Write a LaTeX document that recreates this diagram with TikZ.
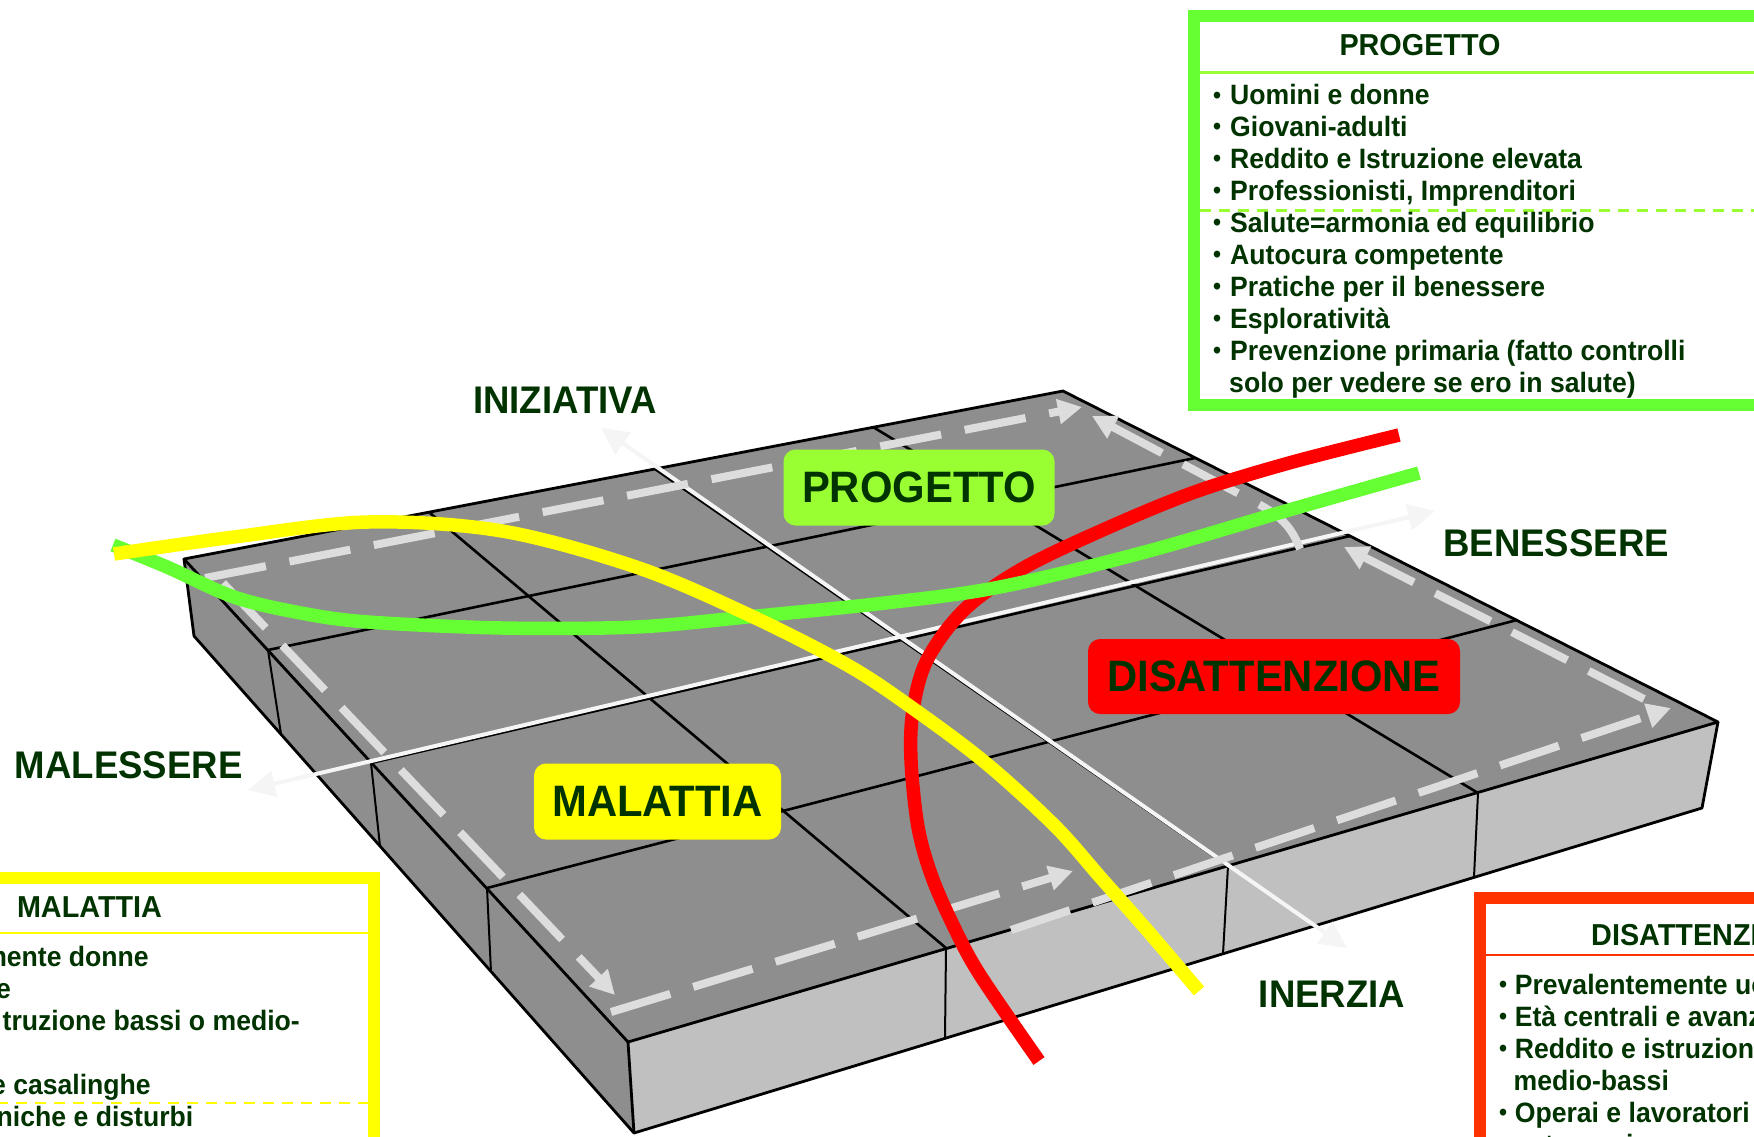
\documentclass[tikz,border=0pt]{standalone}
\usepackage{fontspec}
\newfontfamily\figfont{Liberation Sans}[FakeStretch=0.95]
\usetikzlibrary{arrows.meta}

\definecolor{txtgreen}{HTML}{003300}
\definecolor{limefill}{HTML}{99FF33}
\definecolor{limeline}{HTML}{66FF33}
\definecolor{alarmred}{HTML}{FF0000}
\definecolor{boxred}{HTML}{FF3300}
\definecolor{sickyellow}{HTML}{FFFF00}
\definecolor{tilegray}{HTML}{8E8E8E}
\definecolor{frontgray}{HTML}{C0C0C0}
\definecolor{loopgray}{HTML}{DDDDDD}
\definecolor{axiswhite}{HTML}{F5F5F5}

\begin{document}
\begin{tikzpicture}[x=1pt,y=-1pt,
  slab/.style={draw=black,line width=2.8pt,line join=round},
  seam/.style={draw=black,line width=2.6pt},
  riser/.style={draw=black,line width=2pt},
  axisline/.style={draw=axiswhite,line width=4pt,
    {Triangle[length=27pt,width=26pt]}-{Triangle[length=27pt,width=26pt]}},
  flowdash/.style={draw=loopgray,line width=8pt,dash pattern=on 62pt off 24pt,
    -{Triangle[length=24pt,width=24pt]}},
  trend/.style={line width=13.5pt,line cap=butt,line join=round},
  boardtag/.style={rounded corners=12pt,inner sep=0pt,text=txtgreen,
    font=\figfont\bfseries\fontsize{44}{44}\selectfont},
  axislabel/.style={inner sep=0pt,text=txtgreen,
    font=\figfont\bfseries\fontsize{38.5}{38.5}\selectfont},
  boxhead/.style={inner sep=0pt,text=txtgreen,
    font=\figfont\bfseries\fontsize{30.3}{30.3}\selectfont},
  boxtext/.style={inner sep=0pt,text=txtgreen,
    font=\figfont\bfseries\fontsize{28}{28}\selectfont},
  bulletmark/.style={inner sep=0pt,text=txtgreen,
    font=\figfont\bfseries\fontsize{24}{24}\selectfont},
]
\useasboundingbox (0,0) rectangle (1754,1136);
\clip (0,0) rectangle (1754,1136);
\fill[white] (0,0) rectangle (1754,1136);

% ---------- the slab: corners of the top face and of the lower edge
\coordinate (L)  at (184,559);
\coordinate (Bk) at (1063,391);
\coordinate (R)  at (1718,722);
\coordinate (F)  at (628,1042);
\coordinate (Ld) at (194,636);
\coordinate (Fd) at (634,1133);
\coordinate (Rd) at (1702,808);
% tile divisions on the four top edges
\coordinate (P1) at (268,650);  \coordinate (P2) at (371,763);  \coordinate (P3) at (487,888);
\coordinate (Q1) at (946,948);  \coordinate (Q2) at (1228,866); \coordinate (Q3) at (1478,793);
\coordinate (B1) at (430,513);  \coordinate (B2) at (655,469);  \coordinate (B3) at (873,427);
\coordinate (C1) at (1195,458); \coordinate (C2) at (1350,536); \coordinate (C3) at (1517,620);
% tile divisions on the lower edges
\coordinate (P1d) at (281,734); \coordinate (P2d) at (380,846); \coordinate (P3d) at (491,972);
\coordinate (Q1d) at (945,1038); \coordinate (Q2d) at (1223,954); \coordinate (Q3d) at (1474,877);

\fill[tilegray]  (L) -- (F) -- (Fd) -- (Ld) -- cycle;
\fill[frontgray] (F) -- (R) -- (Rd) -- (Fd) -- cycle;
\fill[tilegray]  (L) -- (Bk) -- (R) -- (F) -- cycle;

\foreach \a/\b in {P1/C1,P2/C2,P3/C3,B1/Q1,B2/Q2,B3/Q3}
  \draw[seam] (\a) -- (\b);
\foreach \a in {P1,P2,P3,Q1,Q2,Q3}
  \draw[riser] (\a) -- (\a d);

\draw[slab] (L) -- (Bk) -- (R) -- (F) -- cycle;
\draw[slab] (L) -- (Ld) -- (Fd) -- (Rd) -- (R);
\draw[slab] (F) -- (Fd);

% ---------- the two white axes
\coordinate (iniz)  at (601,428);
\coordinate (inerz) at (1347,948);
\coordinate (males) at (248,790);
\coordinate (benes) at (1435,511);
\draw[axisline] (iniz) -- (inerz);
\draw[axisline] (males) -- (benes);

% ---------- dashed circulation around the top face
\coordinate (d1s) at (205,578);   \coordinate (d1e) at (1082,407);
\coordinate (d2s) at (223,583);   \coordinate (d2e) at (615,995);
\coordinate (d3s) at (611,1012);  \coordinate (d3e) at (1073,871);
\coordinate (d4s) at (1011,930);  \coordinate (d4e) at (1671,708);
\coordinate (d5s) at (1644,699);  \coordinate (d5e) at (1344,547);
\coordinate (d6s) at (1300,549);  \coordinate (d6e) at (1092,416);
\draw[flowdash] (d1s) -- (d1e);
\draw[flowdash] (d2s) -- (d2e);
\draw[flowdash] (d3s) -- (d3e);
\draw[flowdash] (d4s) -- (d4e);
\draw[flowdash] (d5s) -- (d5e);
\draw[flowdash] (d6s) .. controls (1290,522) and (1275,512) .. (1245,497) -- (d6e);

% ---------- labels on the tiles
\node[boardtag,fill=limefill,minimum width=271pt,minimum height=76pt]   (tagprog) at (919,487.5)  {PROGETTO};
\node[boardtag,fill=alarmred,minimum width=372pt,minimum height=75pt]   (tagdis)  at (1274,676.5) {DISATTENZIONE};
\node[boardtag,fill=sickyellow,minimum width=247pt,minimum height=76pt] (tagmal)  at (657.5,801.5) {MALATTIA};

% ---------- the three paths
\draw[trend,draw=alarmred] plot[smooth,tension=0.55] coordinates {
  (1399,435) (1289,463) (1192,493) (1096,533) (1020,570) (964,610) (927,660)
  (913,710) (911,760) (918,827) (932,877) (954,927) (980,975) (1039,1061)};
\draw[trend,draw=limeline] plot[smooth,tension=0.55] coordinates {
  (113,545) (167,567) (234,597) (301,613) (368,622) (502,628) (636,627)
  (747,617) (885,603) (1000,587) (1145,552) (1289,510) (1419,473)};
\draw[trend,draw=sickyellow] plot[smooth,tension=0.55] coordinates {
  (114,554) (234,537) (368,522) (502,531) (636,567) (747,614) (849,666)
  (918,712) (987,764) (1055,826) (1101,878) (1147,930) (1199,991)};

% ---------- axis names
\node[axislabel] (lbini) at (565,400)    {INIZIATIVA};
\node[axislabel] (lbben) at (1556,543.5) {BENESSERE};
\node[axislabel] (lbmal) at (128.6,765)  {MALESSERE};
\node[axislabel] (lbine) at (1332,994.5) {INERZIA};

% ---------- PROGETTO profile box
\filldraw[draw=limeline,fill=white,line width=11.7pt] (1194,16) rectangle (1800,405);
\draw[limefill,line width=2.5pt] (1200,72.5) -- (1760,72.5);
\draw[limefill,line width=2.5pt,dash pattern=on 11pt off 8pt] (1200,210.5) -- (1760,210.5);
\node[boxhead,anchor=base] (pgtitle) at (1420,55) {PROGETTO};
\foreach \t [count=\i from 0] in {Uomini e donne, Giovani-adulti, Reddito e Istruzione elevata,
  {Professionisti, Imprenditori}, Salute=armonia ed equilibrio, Autocura competente,
  Pratiche per il benessere, Esploratività, Prevenzione primaria (fatto controlli}{
  \node[bulletmark,anchor=base west] (pgdot\i) at (1213,{104.5+31.95*\i-1.5}) {•};
  \node[boxtext,anchor=base west] (pgline\i) at (1230,{104.5+31.95*\i}) {\t};
}
\node[boxtext,anchor=base west] (pgline9) at (1229,{104.5+31.95*9}) {solo per vedere se ero in salute)};

% ---------- MALATTIA profile box
\filldraw[draw=sickyellow,fill=white,line width=11.7pt] (-60,878) rectangle (374,1200);
\draw[sickyellow,line width=2.5pt] (-60,933) -- (368,933);
\draw[sickyellow,line width=2.5pt,dash pattern=on 11pt off 8pt] (-60,1103) -- (368,1103);
\node[boxhead,anchor=base west] (mltitle) at (16.8,917) {MALATTIA};
\node[boxtext,anchor=base east] (mlline0) at (149,966.5)  {mente donne};
\node[boxtext,anchor=base east] (mlline1) at (11,998.5)   {e};
\node[boxtext,anchor=base east] (mlline2) at (300,1030.5) {truzione bassi o medio-};
\node[boxtext,anchor=base east] (mlline3) at (151,1094.5) {e casalinghe};
\node[boxtext,anchor=base east] (mlline4) at (193.5,1126.5) {niche e disturbi};

% ---------- DISATTENZIONE profile box
\filldraw[draw=boxred,fill=white,line width=12pt] (1480,897.5) rectangle (1800,1200);
\draw[boxred,line width=2.5pt] (1486,955) -- (1760,955);
\node[boxhead,anchor=base west] (dstitle) at (1591,945) {DISATTENZI};
\foreach \t/\yb [count=\i] in {Prevalentemente uo/994, Età centrali e avanz/1026,
  Reddito e istruzion/1058, Operai e lavoratori/1122}{
  \node[bulletmark,anchor=base west] (dsdot\i) at (1499,{\yb-1.5}) {•};
  \node[boxtext,anchor=base west] (dsline\i) at (1514.6,\yb) {\t};
}
\node[boxtext,anchor=base west] (dscont1) at (1513.5,1090) {medio-bassi};
\node[boxtext,anchor=base west] (dscont2) at (1513.5,1154) {autonomi};
\end{tikzpicture}
\end{document}
